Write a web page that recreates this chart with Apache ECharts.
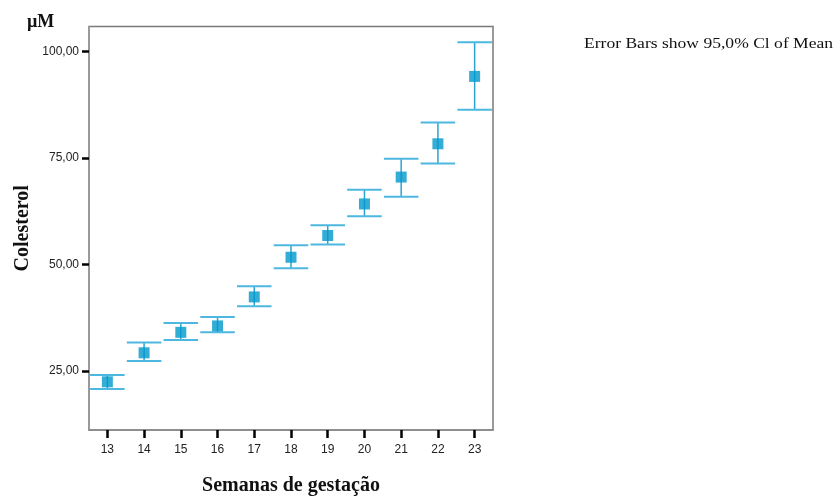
<!DOCTYPE html>
<html>
<head>
<meta charset="utf-8">
<script src="https://cdn.jsdelivr.net/npm/echarts@6/dist/echarts.min.js"></script>
<style>
  html, body { margin: 0; padding: 0; background: #fff; }
  #chart { width: 838px; height: 496px; }
</style>
</head>
<body>
<div id="chart"></div>
<script>
// Gestational week categories
const weeks = ['13', '14', '15', '16', '17', '18', '19', '20', '21', '22', '23'];
// Mean cholesterol per week (µM)
const meanValues = [22.5, 29.3, 34.1, 35.6, 42.4, 51.7, 56.8, 64.2, 70.5, 78.3, 94.1];
// 95% confidence interval bounds
const ciLower = [20.8, 27.4, 32.3, 34.1, 40.2, 49.1, 54.7, 61.3, 65.9, 73.7, 86.3];
const ciUpper = [24.1, 31.7, 36.3, 37.7, 44.9, 54.5, 59.2, 67.5, 74.8, 83.3, 102.1];
// Y axis tick values
const yTicks = [25, 50, 75, 100];

const errorData = weeks.map((w, i) => [i, ciLower[i], ciUpper[i]]);
const chart = echarts.init(document.getElementById('chart'));

const fmt = v => v.toFixed(2).replace('.', ',');

chart.setOption({
  animation: false,
  backgroundColor: '#ffffff',
  grid: {
    left: 89, right: 345, top: 26.5, bottom: 66,
    outerBoundsMode: 'none',
    containLabel: false,
    show: true, borderColor: '#7a7a7a', borderWidth: 1.5
  },
  xAxis: {
    type: 'category',
    data: weeks,
    boundaryGap: true,
    name: 'Semanas de gestação',
    nameLocation: 'middle',
    nameGap: 46,
    nameTextStyle: { fontFamily: 'Liberation Serif', fontWeight: 'bold', fontSize: 20, color: '#111' },
    axisLine: { show: true, lineStyle: { color: '#8a8a8a', width: 1.5 } },
    axisTick: { show: true, alignWithLabel: true, length: 8, lineStyle: { color: '#000', width: 2.5 } },
    axisLabel: { margin: 14, fontFamily: 'Liberation Sans', fontSize: 12, color: '#222' },
    splitLine: { show: false }
  },
  yAxis: {
    type: 'value',
    min: 11.2,
    max: 105.8,
    name: 'Colesterol',
    nameLocation: 'middle',
    nameGap: 56,
    nameRotate: 90,
    nameTextStyle: { fontFamily: 'Liberation Serif', fontWeight: 'bold', fontSize: 20, color: '#111' },
    axisLine: { show: true, lineStyle: { color: '#9a9a9a', width: 1.5 } },
    axisTick: { show: true, length: 7, lineStyle: { color: '#000', width: 2.5 }, customValues: yTicks },
    axisLabel: { margin: 10, fontFamily: 'Liberation Sans', fontSize: 12, color: '#222', formatter: fmt, customValues: yTicks },
    splitLine: { show: false }
  },
  graphic: [
    {
      type: 'text', left: 27, top: 13,
      style: { text: 'µM', fontFamily: 'Liberation Serif', fontWeight: 'bold', fontSize: 18, fill: '#111' }
    },
    {
      type: 'text', x: 584, y: 37, scaleX: 1.17,
      style: { text: 'Error Bars show 95,0% Cl of Mean', fontFamily: 'Liberation Serif', fontSize: 15, fill: '#111' }
    }
  ],
  series: [
    {
      type: 'custom',
      data: errorData,
      z: 2,
      renderItem: function (params, api) {
        const x = api.value(0);
        const lo = api.coord([x, api.value(1)]);
        const hi = api.coord([x, api.value(2)]);
        const half = api.size([1, 0])[0] * 0.47;
        return {
          type: 'group',
          children: [
            { type: 'line', shape: { x1: hi[0], y1: hi[1], x2: lo[0], y2: lo[1] },
              style: { stroke: '#2aa3d3', lineWidth: 1.5 } },
            { type: 'line', shape: { x1: hi[0] - half, y1: hi[1], x2: hi[0] + half, y2: hi[1] },
              style: { stroke: '#4db7e0', lineWidth: 2 } },
            { type: 'line', shape: { x1: lo[0] - half, y1: lo[1], x2: lo[0] + half, y2: lo[1] },
              style: { stroke: '#4db7e0', lineWidth: 2 } }
          ]
        };
      }
    },
    {
      type: 'scatter',
      data: meanValues,
      symbol: 'rect',
      symbolSize: 11,
      z: 3,
      itemStyle: { color: '#0099cc' }
    }
  ]
});
</script>
</body>
</html>
